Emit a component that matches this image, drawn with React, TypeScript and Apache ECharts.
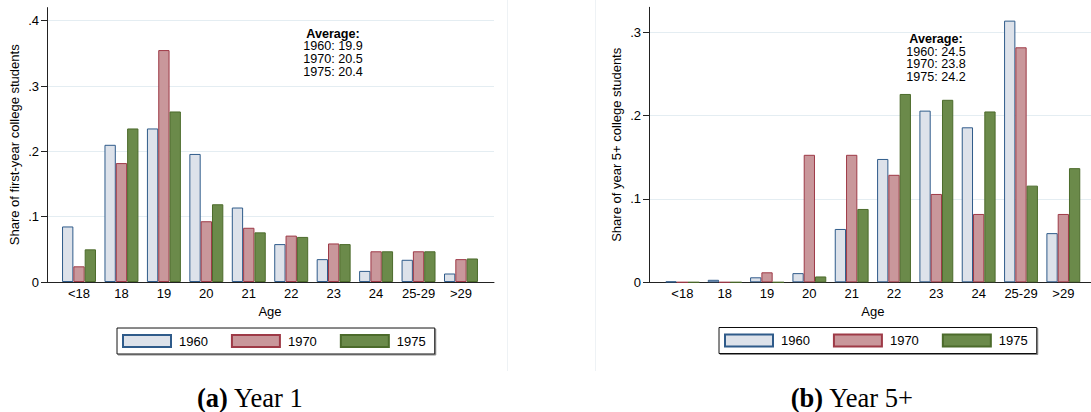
import React, { useEffect, useRef } from "react";
import * as echarts from "echarts";

const categories = ["<18", "18", "19", "20", "21", "22", "23", "24", "25-29", ">29"];
const seriesNames = ["1960", "1970", "1975"];

// Panel (a): Year 1
const year1_1960 = [0.085, 0.21, 0.235, 0.196, 0.114, 0.058, 0.035, 0.017, 0.034, 0.013];
const year1_1970 = [0.024, 0.182, 0.355, 0.093, 0.083, 0.071, 0.059, 0.047, 0.047, 0.035];
const year1_1975 = [0.05, 0.235, 0.261, 0.119, 0.076, 0.069, 0.058, 0.047, 0.047, 0.036];

// Panel (b): Year 5+
const year5_1960 = [0.001, 0.003, 0.006, 0.011, 0.064, 0.148, 0.206, 0.186, 0.314, 0.059];
const year5_1970 = [0, 0, 0.012, 0.153, 0.153, 0.129, 0.106, 0.082, 0.282, 0.082];
const year5_1975 = [0, 0, 0, 0.007, 0.088, 0.226, 0.219, 0.205, 0.116, 0.137];

const avgLeft = ["19.9", "20.5", "20.4"];
const avgRight = ["24.5", "23.8", "24.2"];

const yTicksLeft = [0, 0.1, 0.2, 0.3, 0.4];
const yTicksRight = [0, 0.1, 0.2, 0.3];

const FONT = "'Liberation Sans', Arial, sans-serif";
const SERIF = "'Liberation Serif', 'Times New Roman', serif";

const fills = ["#dde2ea", "#c9979b", "#6b8a4a"];
const borders = ["#2f5b8a", "#9e3a47", "#4c6b2b"];

const fmt = (v: number) => (v === 0 ? "0" : v.toFixed(1).replace(/^0/, ""));

function avgText(vals: string[]) {
  return ["{b|Average:}", ...seriesNames.map((s, i) => `${s}: ${vals[i]}`)].join("\n");
}

export default function App() {
  const ref = useRef<HTMLDivElement>(null);
  useEffect(() => {
    if (!ref.current) return;
    const chart = echarts.init(ref.current, null, { renderer: "svg" });

    const panels = [
      {
        frame: { left: 47, top: 7.6, width: 447, height: 274.4 },
        ticks: { left: 47, top: 20.7, width: 447, height: 261.3 },
        bars: { left: 57.8, top: 7.6, width: 424.4, height: 274.4 },
        frameMax: 0.42,
        tickMax: yTicksLeft[yTicksLeft.length - 1],
        yName: "Share of first-year college students",
        data: [year1_1960, year1_1970, year1_1975],
      },
      {
        frame: { left: 649, top: 7.3, width: 442, height: 275 },
        ticks: { left: 649, top: 32.3, width: 442, height: 250 },
        bars: { left: 661.2, top: 7.3, width: 423.3, height: 275 },
        frameMax: 0.33,
        tickMax: yTicksRight[yTicksRight.length - 1],
        yName: "Share of year 5+ college students",
        data: [year5_1960, year5_1970, year5_1975],
      },
    ];

    const grid: any[] = [];
    const xAxis: any[] = [];
    const yAxis: any[] = [];
    const series: any[] = [];

    panels.forEach((p, pi) => {
      const base = pi * 3;
      grid.push(p.frame, p.ticks, p.bars);
      // frame
      xAxis.push({
        gridIndex: base,
        type: "value",
        min: 0,
        max: 1,
        axisLine: { show: true, lineStyle: { color: "#222", width: 1 } },
        axisTick: { show: false },
        axisLabel: { show: false },
        splitLine: { show: false },
      });
      yAxis.push({
        gridIndex: base,
        type: "value",
        min: 0,
        max: p.frameMax,
        axisLine: { show: true, lineStyle: { color: "#222", width: 1 } },
        axisTick: { show: false },
        axisLabel: { show: false },
        splitLine: { show: false },
        name: p.yName,
        nameLocation: "middle",
        nameGap: 26,
        nameTextStyle: { fontFamily: FONT, fontSize: 13, color: "#000" },
      });
      // ticks
      xAxis.push({ gridIndex: base + 1, type: "value", min: 0, max: 1, show: false });
      yAxis.push({
        gridIndex: base + 1,
        type: "value",
        min: 0,
        max: p.tickMax,
        interval: 0.1,
        axisLine: { show: false },
        axisTick: { show: true, length: 6, lineStyle: { color: "#222" } },
        axisLabel: {
          show: true,
          margin: 8,
          formatter: fmt,
          fontFamily: FONT,
          fontSize: 13,
          color: "#000",
        },
        splitLine: { show: true, lineStyle: { color: "#e4edf2", width: 1 } },
      });
      // bars
      xAxis.push({
        gridIndex: base + 2,
        type: "category",
        data: categories,
        axisLine: { show: false },
        axisTick: { show: false },
        axisLabel: { margin: 5, fontFamily: FONT, fontSize: 13, color: "#000", interval: 0 },
        name: "Age",
        nameLocation: "middle",
        nameGap: 22,
        nameTextStyle: { fontFamily: FONT, fontSize: 13, color: "#000" },
      });
      yAxis.push({ gridIndex: base + 2, type: "value", min: 0, max: p.frameMax, show: false });
      p.data.forEach((d, si) => {
        series.push({
          type: "bar",
          name: seriesNames[si],
          xAxisIndex: base + 2,
          yAxisIndex: base + 2,
          data: d,
          barGap: "0%",
          barCategoryGap: "20%",
          itemStyle: { color: fills[si], borderColor: borders[si], borderWidth: 1 },
          emphasis: { disabled: true },
        });
      });
    });

    const legendCommon = {
      orient: "horizontal",
      data: seriesNames,
      icon: "rect",
      itemWidth: 48,
      itemHeight: 12,
      itemGap: 23,
      padding: [6, 9, 6, 5],
      borderColor: "#111",
      borderWidth: 1,
      backgroundColor: "#fff",
      shadowColor: "#888",
      shadowOffsetX: 1,
      shadowOffsetY: 1,
      shadowBlur: 0,
      selectedMode: false,
      textStyle: { fontFamily: FONT, fontSize: 13, color: "#000", padding: [0, 0, 0, 3] },
    };

    chart.setOption({
      animation: false,
      backgroundColor: "#fff",
      grid,
      xAxis,
      yAxis,
      series,
      legend: [
        { ...legendCommon, left: 117, top: 328 },
        { ...legendCommon, left: 719, top: 327.5 },
      ],
      graphic: [
        {
          type: "line",
          shape: { x1: 507.5, y1: 0, x2: 507.5, y2: 371 },
          style: { stroke: "#eef2f5", lineWidth: 1 },
          silent: true,
        },
        {
          type: "line",
          shape: { x1: 595.5, y1: 0, x2: 595.5, y2: 371 },
          style: { stroke: "#eef2f5", lineWidth: 1 },
          silent: true,
        },
        {
          type: "text",
          x: 333,
          y: 27.2,
          style: {
            text: avgText(avgLeft),
            align: "center",
            verticalAlign: "top",
            fontFamily: FONT,
            fontSize: 12.6,
            lineHeight: 12.8,
            fill: "#000",
            rich: { b: { fontWeight: "bold", fontFamily: FONT, fontSize: 12.6, lineHeight: 12.8 } },
          },
        },
        {
          type: "text",
          x: 936,
          y: 32.7,
          style: {
            text: avgText(avgRight),
            align: "center",
            verticalAlign: "top",
            fontFamily: FONT,
            fontSize: 12.6,
            lineHeight: 12.6,
            fill: "#000",
            rich: { b: { fontWeight: "bold", fontFamily: FONT, fontSize: 12.6, lineHeight: 12.6 } },
          },
        },
        {
          type: "text",
          x: 250,
          y: 398,
          style: {
            text: "{b|(a)} Year 1",
            align: "center",
            verticalAlign: "middle",
            fontFamily: SERIF,
            fontSize: 26.5,
            fill: "#000",
            rich: { b: { fontWeight: "bold", fontFamily: SERIF, fontSize: 26.5 } },
          },
        },
        {
          type: "text",
          x: 852,
          y: 398,
          style: {
            text: "{b|(b)} Year 5+",
            align: "center",
            verticalAlign: "middle",
            fontFamily: SERIF,
            fontSize: 26.5,
            fill: "#000",
            rich: { b: { fontWeight: "bold", fontFamily: SERIF, fontSize: 26.5 } },
          },
        },
      ],
    });
    return () => chart.dispose();
  }, []);

  return (
    <div
      ref={ref}
      style={{ position: "fixed", left: 0, top: 0, width: 1091, height: 412, background: "#fff" }}
    />
  );
}
